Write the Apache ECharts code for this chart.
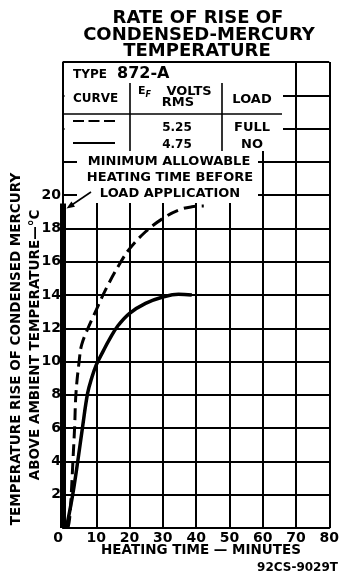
<!DOCTYPE html>
<html>
<head>
<meta charset="utf-8">
<script src="https://cdn.jsdelivr.net/npm/echarts@6/dist/echarts.min.js"></script>
<style>
  html, body { margin: 0; padding: 0; background: #fff; }
  #chart { width: 342px; height: 574px; }
</style>
</head>
<body>
<div id="chart"></div>
<script>
// Title and axis text
const titleLines = ['RATE OF RISE OF', 'CONDENSED-MERCURY', 'TEMPERATURE'];
const yTitleLines = ['TEMPERATURE RISE OF CONDENSED MERCURY', 'ABOVE AMBIENT TEMPERATURE\u2014\u00B0C'];
const xTitle = 'HEATING TIME \u2014 MINUTES';
const drawingNo = '92CS-9029T';

// Tick labels
const xTickValues = [0, 10, 20, 30, 40, 50, 60, 70, 80];
const yTickValues = [2, 4, 6, 8, 10, 12, 14, 16, 18, 20];

// Curve at Ef = 5.25 V rms, full load (dashed)
const fullLoadTime = [1.5, 2.0, 2.5, 3.0, 3.5, 3.9, 4.9, 5.6, 7.5, 10.0, 13.0, 17.4, 20.1, 24.8, 30.0, 34.7, 38.7, 42.3];
const fullLoadRise = [0.0, 0.6, 2.1, 4.1, 6.1, 8.1, 10.1, 11.0, 12.0, 13.1, 14.4, 16.0, 16.8, 17.8, 18.6, 19.1, 19.3, 19.35];

// Curve at Ef = 4.75 V rms, no load (solid)
const noLoadTime = [1.0, 2.0, 3.0, 4.5, 5.9, 7.4, 8.6, 10.0, 12.0, 14.0, 16.5, 20.0, 24.8, 30.0, 34.7, 38.7];
const noLoadRise = [0.0, 1.0, 2.1, 4.1, 6.1, 8.1, 9.0, 9.8, 10.6, 11.35, 12.15, 12.9, 13.5, 13.88, 14.05, 14.0];

// Minimum allowable heating time before load application
const heatLimitTime = [0, 0];
const heatLimitRise = [0, 19.5];

// Table rows
const curveKinds = ['dashed', 'solid'];
const efVolts = ['5.25', '4.75'];
const loads = ['FULL', 'NO'];
const noteLines = ['MINIMUM ALLOWABLE', 'HEATING TIME BEFORE', 'LOAD APPLICATION'];

const FONT = '"DejaVu Sans", "Liberation Sans", sans-serif';
const pair = (xs, ys) => xs.map((x, i) => [x, ys[i]]);

const chart = echarts.init(document.getElementById('chart'), null, { renderer: 'canvas' });

const txt = (text, x, y, size, align, opts) => {
  const o = opts || {};
  const el = {
    type: 'text', z: 20,
    style: { text, x, y, fill: '#000', font: (o.italic ? 'italic ' : '') + 'bold ' + size + 'px ' + FONT,
             textAlign: align || 'center', textVerticalAlign: 'middle' }
  };
  if (o.rotate) {
    el.x = x; el.y = y; el.rotation = o.rotate;
    el.style.x = 0; el.style.y = 0;
  }
  return el;
};
const seg = (x1, y1, x2, y2, w, dash) => ({
  type: 'line', z: 20,
  shape: { x1, y1, x2, y2 },
  style: { stroke: '#000', lineWidth: w || 2, lineDash: dash || null }
});

const graphics = [
  // blank panels behind the table and the note
  { type: 'rect', z: 10, shape: { x: 64.5, y: 63, width: 218.5, height: 88 }, style: { fill: '#fff' } },
  { type: 'rect', z: 10, shape: { x: 77, y: 151, width: 181, height: 52 }, style: { fill: '#fff' } },

  // title
  txt(titleLines[0], 198, 18, 18),
  txt(titleLines[1], 199, 35.5, 18),
  txt(titleLines[2], 197, 51, 18),

  // table
  txt('TYPE', 73, 74.5, 12, 'left'),
  txt('872-A', 117, 73.5, 16, 'left'),
  txt('CURVE', 73, 98.5, 12, 'left'),
  txt('E', 138, 91, 11, 'left'),
  txt('F', 145.5, 95, 8, 'left', { italic: true }),
  txt('VOLTS', 189, 91.5, 13),
  txt('RMS', 178, 102.5, 13),
  txt('LOAD', 252, 100, 13),
  seg(64, 114, 282, 114, 1.6),
  seg(130, 83, 130, 151, 1.6),
  seg(222, 83, 222, 151, 1.6),
  seg(73, 121, 115, 121, 2, [11, 4.5]),
  seg(73, 143, 115, 143, 2),
  txt(efVolts[0], 177, 128, 12),
  txt(loads[0], 252, 128, 13),
  txt(efVolts[1], 177, 145, 12),
  txt(loads[1], 252, 145, 13),

  // note with arrow to the heavy line at zero time
  txt(noteLines[0], 169, 162, 13),
  txt(noteLines[1], 170, 178, 13),
  txt(noteLines[2], 170, 193.5, 13),
  seg(91, 192, 71, 205.5, 1.6),
  { type: 'polygon', z: 20, shape: { points: [[66.5, 208.5], [75, 206.8], [71.4, 201.4]] }, style: { fill: '#000' } },

  // axis titles
  txt(yTitleLines[0], 16, 349, 13.5, 'center', { rotate: Math.PI / 2 }),
  txt(yTitleLines[1], 35, 345, 13.5, 'center', { rotate: Math.PI / 2 }),
  txt(xTitle, 201, 550, 13.5),
  txt(drawingNo, 338, 568, 12, 'right')
];

chart.setOption({
  backgroundColor: '#fff',
  animation: false,
  grid: { left: 63, right: 9, top: 62, bottom: 46, containLabel: false },
  xAxis: {
    type: 'value', min: 0, max: 80, interval: 10,
    axisLine: { show: true, lineStyle: { color: '#000', width: 2 } },
    axisTick: { show: false },
    splitLine: { show: true, lineStyle: { color: '#000', width: 2 } },
    axisLabel: {
      color: '#000', fontFamily: FONT, fontWeight: 'bold', fontSize: 14, margin: 3,
      alignMinLabel: 'right',
      formatter: v => xTickValues.includes(v) ? String(v) : ''
    }
  },
  yAxis: {
    type: 'value', min: 0, max: 28, interval: 2,
    axisLine: { show: true, lineStyle: { color: '#000', width: 1.5 } },
    axisTick: { show: false },
    splitLine: { show: true, lineStyle: { color: '#000', width: 2 } },
    axisLabel: {
      color: '#000', fontFamily: FONT, fontWeight: 'bold', fontSize: 14, margin: 2,
      formatter: v => yTickValues.includes(v) ? String(v) : ''
    }
  },
  series: [
    {
      name: 'MIN HEATING', type: 'line', data: pair(heatLimitTime, heatLimitRise),
      symbol: 'none', clip: false, z: 5,
      lineStyle: { color: '#000', width: 6 }
    },
    {
      name: curveKinds[0], type: 'line', data: pair(fullLoadTime, fullLoadRise),
      symbol: 'none', smooth: 0.4, z: 4,
      lineStyle: { color: '#000', width: 3, type: [12, 6] }
    },
    {
      name: curveKinds[1], type: 'line', data: pair(noLoadTime, noLoadRise),
      symbol: 'none', smooth: 0.4, z: 4,
      lineStyle: { color: '#000', width: 3.5 }
    }
  ],
  graphic: { elements: graphics }
});
</script>
</body>
</html>
